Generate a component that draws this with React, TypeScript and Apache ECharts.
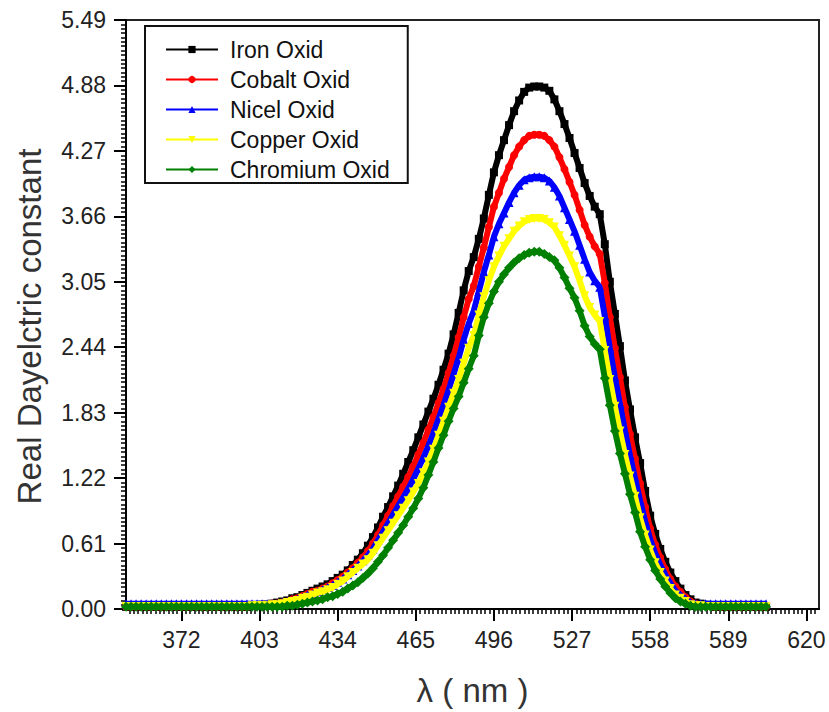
import React, { useEffect, useRef } from "react";
import * as echarts from "echarts";

const wavelength = [
  350, 352, 354, 356, 358, 360, 362, 364, 366, 368, 370, 372, 374, 376, 378, 380, 382, 384, 386, 388, 390, 392, 394, 396, 398,
  400, 402, 404, 406, 408, 410, 412, 414, 416, 418,
  420, 422, 424, 426, 428, 430, 432, 434, 436, 438,
  440, 442, 444, 446, 448, 450, 452, 454, 456, 458,
  460, 462, 464, 466, 468, 470, 472, 474, 476, 478,
  480, 482, 484, 486, 488, 490, 492, 494, 496, 498,
  500, 502, 504, 506, 508, 510, 512, 514, 516, 518,
  520, 522, 524, 526, 528, 530, 532, 534, 536, 538,
  540, 542, 544, 546, 548, 550, 552, 554, 556, 558,
  560, 562, 564, 566, 568, 570, 572, 574, 576, 578,
  580, 582, 584, 586, 588, 590, 592, 594, 596, 598,
  600, 602, 604,
];

const ironOxid = [
  0.02, 0.02, 0.02, 0.02, 0.02, 0.02, 0.02, 0.02, 0.02, 0.02, 0.02, 0.02, 0.02, 0.02, 0.02, 0.02, 0.02, 0.02, 0.02, 0.02, 0.02, 0.02, 0.02, 0.02, 0.02,
  0.03, 0.03, 0.04, 0.04, 0.05, 0.06, 0.07, 0.08, 0.10, 0.11,
  0.13, 0.15, 0.17, 0.19, 0.21, 0.23, 0.26, 0.29, 0.32, 0.36,
  0.41, 0.46, 0.52, 0.59, 0.67, 0.76, 0.86, 0.95, 1.05, 1.15,
  1.26, 1.37, 1.48, 1.60, 1.72, 1.84, 1.96, 2.09, 2.23, 2.38,
  2.56, 2.76, 2.97, 3.15, 3.28, 3.45, 3.64, 3.86, 4.07, 4.23,
  4.37, 4.51, 4.64, 4.74, 4.82, 4.86, 4.87, 4.87, 4.86, 4.83,
  4.75, 4.64, 4.52, 4.39, 4.25, 4.11, 3.97, 3.85, 3.75, 3.68,
  3.40, 3.05, 2.75, 2.45, 2.13, 1.86, 1.60, 1.36, 1.10, 0.87,
  0.70, 0.56, 0.44, 0.34, 0.26, 0.19, 0.13, 0.09, 0.06, 0.05,
  0.04, 0.03, 0.02, 0.02, 0.02, 0.02, 0.02, 0.02, 0.02, 0.02,
  0.02, 0.02, 0.02,
];

const cobaltOxid = [
  0.02, 0.02, 0.02, 0.02, 0.02, 0.02, 0.02, 0.02, 0.02, 0.02, 0.02, 0.02, 0.02, 0.02, 0.02, 0.02, 0.02, 0.02, 0.02, 0.02, 0.02, 0.02, 0.02, 0.02, 0.02,
  0.03, 0.03, 0.04, 0.04, 0.05, 0.05, 0.06, 0.07, 0.09, 0.10,
  0.12, 0.14, 0.16, 0.17, 0.19, 0.21, 0.24, 0.27, 0.30, 0.34,
  0.38, 0.43, 0.48, 0.54, 0.61, 0.69, 0.78, 0.87, 0.96, 1.05,
  1.14, 1.23, 1.33, 1.44, 1.55, 1.67, 1.79, 1.92, 2.05, 2.20,
  2.36, 2.53, 2.72, 2.89, 3.01, 3.19, 3.37, 3.56, 3.75, 3.88,
  4.01, 4.12, 4.23, 4.31, 4.37, 4.41, 4.42, 4.42, 4.41, 4.37,
  4.31, 4.21, 4.10, 3.98, 3.86, 3.72, 3.58, 3.47, 3.38, 3.31,
  3.04, 2.72, 2.43, 2.16, 1.88, 1.63, 1.40, 1.17, 0.95, 0.75,
  0.60, 0.48, 0.37, 0.28, 0.21, 0.16, 0.11, 0.07, 0.05, 0.04,
  0.03, 0.03, 0.02, 0.02, 0.02, 0.02, 0.02, 0.02, 0.02, 0.02,
  0.02, 0.02, 0.02,
];

const nicelOxid = [
  0.05, 0.05, 0.05, 0.05, 0.05, 0.05, 0.05, 0.05, 0.05, 0.05, 0.05, 0.05, 0.05, 0.05, 0.05, 0.05, 0.05, 0.05, 0.05, 0.05, 0.05, 0.05, 0.05, 0.05, 0.05,
  0.05, 0.05, 0.05, 0.05, 0.05, 0.05, 0.06, 0.07, 0.08, 0.09,
  0.11, 0.13, 0.14, 0.16, 0.18, 0.20, 0.22, 0.25, 0.28, 0.32,
  0.36, 0.40, 0.45, 0.50, 0.56, 0.64, 0.72, 0.80, 0.88, 0.96,
  1.04, 1.12, 1.21, 1.31, 1.41, 1.52, 1.64, 1.77, 1.90, 2.04,
  2.19, 2.34, 2.51, 2.66, 2.78, 2.96, 3.14, 3.30, 3.47, 3.59,
  3.69, 3.79, 3.88, 3.95, 4.00, 4.02, 4.03, 4.03, 4.02, 3.99,
  3.93, 3.85, 3.74, 3.63, 3.52, 3.39, 3.26, 3.14, 3.06, 3.00,
  2.73, 2.43, 2.16, 1.91, 1.66, 1.43, 1.22, 1.01, 0.82, 0.65,
  0.52, 0.41, 0.32, 0.24, 0.17, 0.13, 0.09, 0.06, 0.05, 0.05,
  0.05, 0.05, 0.05, 0.05, 0.05, 0.05, 0.05, 0.05, 0.05, 0.05,
  0.05, 0.05, 0.05,
];

const copperOxid = [
  0.02, 0.02, 0.02, 0.02, 0.02, 0.02, 0.02, 0.02, 0.02, 0.02, 0.02, 0.02, 0.02, 0.02, 0.02, 0.02, 0.02, 0.02, 0.02, 0.02, 0.02, 0.02, 0.02, 0.02, 0.02,
  0.03, 0.03, 0.03, 0.03, 0.04, 0.04, 0.05, 0.06, 0.07, 0.08,
  0.10, 0.11, 0.13, 0.15, 0.16, 0.18, 0.20, 0.23, 0.26, 0.30,
  0.34, 0.38, 0.42, 0.46, 0.52, 0.59, 0.66, 0.73, 0.80, 0.87,
  0.94, 1.01, 1.09, 1.17, 1.27, 1.37, 1.49, 1.62, 1.75, 1.88,
  2.01, 2.14, 2.29, 2.43, 2.55, 2.74, 2.91, 3.06, 3.19, 3.29,
  3.38, 3.45, 3.52, 3.57, 3.61, 3.63, 3.64, 3.64, 3.63, 3.60,
  3.56, 3.48, 3.39, 3.29, 3.19, 3.06, 2.92, 2.81, 2.74, 2.68,
  2.41, 2.14, 1.89, 1.66, 1.44, 1.24, 1.05, 0.85, 0.69, 0.55,
  0.43, 0.34, 0.26, 0.19, 0.13, 0.10, 0.07, 0.04, 0.03, 0.03,
  0.02, 0.02, 0.02, 0.02, 0.02, 0.02, 0.02, 0.02, 0.02, 0.02,
  0.02, 0.02, 0.02,
];

const chromiumOxid = [
  0.02, 0.02, 0.02, 0.02, 0.02, 0.02, 0.02, 0.02, 0.02, 0.02, 0.02, 0.02, 0.02, 0.02, 0.02, 0.02, 0.02, 0.02, 0.02, 0.02, 0.02, 0.02, 0.02, 0.02, 0.02,
  0.02, 0.02, 0.02, 0.02, 0.02, 0.02, 0.02, 0.03, 0.03, 0.04,
  0.05, 0.06, 0.07, 0.08, 0.09, 0.11, 0.12, 0.14, 0.16, 0.19,
  0.22, 0.25, 0.29, 0.33, 0.38, 0.44, 0.50, 0.57, 0.64, 0.71,
  0.78, 0.86, 0.94, 1.03, 1.13, 1.25, 1.37, 1.50, 1.62, 1.75,
  1.87, 1.98, 2.11, 2.24, 2.36, 2.55, 2.72, 2.85, 2.96, 3.05,
  3.12, 3.18, 3.23, 3.27, 3.30, 3.32, 3.33, 3.33, 3.31, 3.28,
  3.25, 3.18, 3.09, 2.99, 2.90, 2.78, 2.64, 2.54, 2.47, 2.42,
  2.15, 1.90, 1.66, 1.45, 1.26, 1.07, 0.90, 0.72, 0.58, 0.46,
  0.36, 0.28, 0.21, 0.15, 0.10, 0.07, 0.05, 0.03, 0.02, 0.02,
  0.02, 0.02, 0.02, 0.02, 0.02, 0.02, 0.02, 0.02, 0.02, 0.02,
  0.02, 0.02, 0.02,
];

const seriesNames = ["Iron Oxid", "Cobalt Oxid", "Nicel Oxid", "Copper Oxid", "Chromium Oxid"];
const xMajorTicks = [372, 403, 434, 465, 496, 527, 558, 589, 620];
const yTickStep = 0.61;
const yMax = 5.49;

const FONT = "'Liberation Sans', Arial, sans-serif";

export default function App() {
  const ref = useRef<HTMLDivElement>(null);

  useEffect(() => {
    if (!ref.current) return;
    const chart = echarts.init(ref.current, null, { renderer: "svg" });

    const minorX: number[] = [];
    for (let k = -12; k <= 146; k++) {
      const v = 372 + (k * 31) / 18;
      if (v >= 350 && v <= 625) minorX.push(Number(v.toFixed(3)));
    }

    const styles = [
      { color: "#000000", symbol: "rect", size: 8, rotate: 0 },
      { color: "#ff0000", symbol: "circle", size: 8, rotate: 0 },
      { color: "#0000ff", symbol: "triangle", size: 9, rotate: 0 },
      { color: "#ffff00", symbol: "triangle", size: 9, rotate: 180 },
      { color: "#008000", symbol: "diamond", size: 10, rotate: 0 },
    ];
    const values = [ironOxid, cobaltOxid, nicelOxid, copperOxid, chromiumOxid];

    const series = values.map((vals, s) => ({
      type: "line",
      name: seriesNames[s],
      xAxisIndex: 0,
      yAxisIndex: 0,
      data: wavelength.map((x, i) => [x, vals[i]]),
      symbol: styles[s].symbol,
      symbolSize: styles[s].size,
      symbolRotate: styles[s].rotate,
      showSymbol: true,
      showAllSymbol: true,
      silent: true,
      lineStyle: { color: styles[s].color, width: 6 },
      itemStyle: { color: styles[s].color },
      z: 2 + s,
    }));

    chart.setOption({
      animation: false,
      backgroundColor: "#ffffff",
      grid: {
        left: 126,
        right: 10,
        top: 20,
        bottom: 99,
        show: true,
        borderColor: "#222",
        borderWidth: 2,
        backgroundColor: "transparent",
      },
      legend: {
        orient: "vertical",
        left: 145,
        top: 26,
        itemWidth: 52,
        itemHeight: 9,
        itemGap: 7,
        padding: [12, 18, 2, 20],
        borderColor: "#111",
        borderWidth: 2,
        backgroundColor: "#fff",
        data: seriesNames,
        lineStyle: { width: 2 },
        textStyle: {
          fontSize: 23,
          lineHeight: 23,
          color: "#111",
          fontFamily: FONT,
          padding: [0, 0, 0, 7],
        },
      },
      xAxis: [
        {
          type: "value",
          min: 350,
          max: 625,
          position: "bottom",
          axisLine: { show: true, onZero: false, lineStyle: { color: "#000", width: 2 } },
          axisTick: { show: true, customValues: minorX, length: 5, lineStyle: { color: "#000", width: 1.5 } },
          axisLabel: { show: false },
          splitLine: { show: false },
          name: "λ ( nm )",
          nameLocation: "middle",
          nameGap: 65,
          nameTextStyle: { fontSize: 33, color: "#333", fontFamily: FONT },
        },
        {
          type: "value",
          min: 350,
          max: 625,
          position: "bottom",
          axisLine: { show: false },
          axisTick: { show: true, customValues: xMajorTicks, length: 12, lineStyle: { color: "#000", width: 2 } },
          axisLabel: {
            show: true,
            customValues: xMajorTicks,
            margin: 19,
            fontSize: 23,
            color: "#222",
            fontFamily: FONT,
          },
          splitLine: { show: false },
        },
      ],
      yAxis: {
        type: "value",
        min: 0,
        max: yMax,
        interval: yTickStep,
        axisLine: { show: true, onZero: false, lineStyle: { color: "#000", width: 2 } },
        axisTick: { show: true, length: 12, lineStyle: { color: "#000", width: 2 } },
        minorTick: { show: true, splitNumber: 15, length: 5, lineStyle: { color: "#000", width: 1.5 } },
        axisLabel: {
          margin: 20,
          fontSize: 23,
          color: "#222",
          fontFamily: FONT,
          formatter: (v: number) => v.toFixed(2),
        },
        splitLine: { show: false },
        minorSplitLine: { show: false },
        name: "Real Dayelctric constant",
        nameLocation: "middle",
        nameGap: 80,
        nameRotate: 90,
        nameTextStyle: { fontSize: 33, color: "#333", fontFamily: FONT, padding: [0, 24, 0, 0] },
      },
      series,
    });

    return () => chart.dispose();
  }, []);

  return (
    <div
      ref={ref}
      style={{ position: "fixed", left: 0, top: 0, width: 829, height: 712, background: "#fff" }}
    />
  );
}
